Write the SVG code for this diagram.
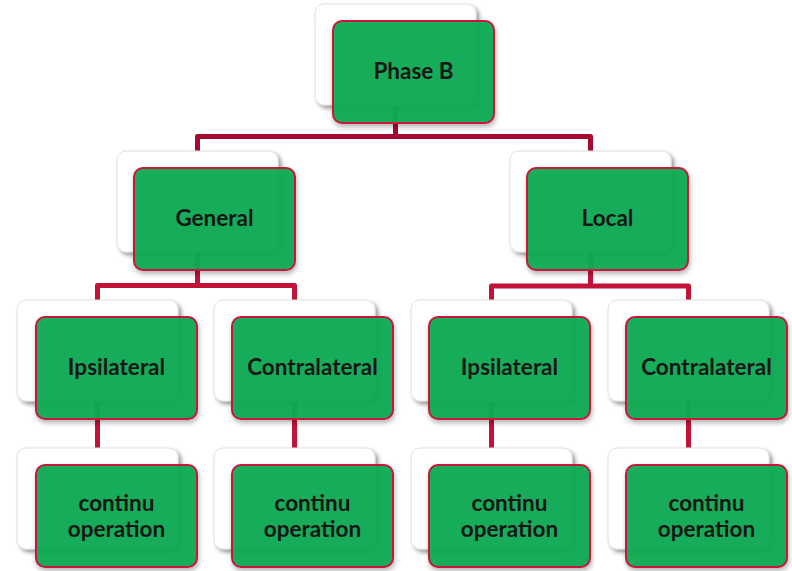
<svg xmlns="http://www.w3.org/2000/svg" width="792" height="571" viewBox="0 0 792 571">
  <defs>
    <filter id="shadowBack" x="-10%" y="-10%" width="125%" height="130%">
      <feDropShadow dx="3" dy="3" stdDeviation="2" flood-color="#000" flood-opacity="0.4"/>
    </filter>
    <filter id="shadowFront" x="-10%" y="-10%" width="125%" height="130%">
      <feDropShadow dx="1" dy="3" stdDeviation="2.5" flood-color="#000" flood-opacity="0.3"/>
    </filter>
  </defs>
  <style>
    .back { fill: #ffffff; stroke: #e0e0e0; stroke-width: 1; filter: url(#shadowBack); }
    .front { fill: #0dab53; fill-opacity: 0.95; stroke: #c8143c; stroke-width: 2; filter: url(#shadowFront); }
    .label { font-family: Lato, "Open Sans", sans-serif; font-weight: 700; font-size: 22.5px; fill: #161616; text-anchor: middle; }
    .wire { fill: none; stroke: #c21238; stroke-width: 5; stroke-linejoin: round; }
    .wire-top { stroke: #a60a30; }
  </style>

  <!-- connectors -->
  <g id="connectors">
    <path class="wire wire-top" d="M395.5 104 V136.5 M197.5 152 V136.5 H590.5 V152"/>
    <path class="wire" d="M197.5 251 V285.5 M97.5 301 V285.5 H294.5 V301"/>
    <path class="wire" d="M590.5 251 V286 M491.5 301 V286 H688.5 V301"/>
    <path class="wire" d="M97.5 400 V449 M294.5 400 V449 M491.5 400 V449 M688.5 400 V449"/>
  </g>

  <!-- level 1 -->
  <g id="phase-b">
    <rect class="back" x="315" y="4" width="161" height="101" rx="9"/>
    <rect class="front" x="333" y="21" width="161" height="102" rx="9"/>
    <text class="label" x="413.5" y="79">Phase B</text>
  </g>

  <!-- level 2 -->
  <g id="general">
    <rect class="back" x="117" y="151" width="161" height="101" rx="9"/>
    <rect class="front" x="134" y="168" width="161" height="102" rx="9"/>
    <text class="label" x="214.5" y="226">General</text>
  </g>
  <g id="local">
    <rect class="back" x="510" y="151" width="161" height="101" rx="9"/>
    <rect class="front" x="527" y="168" width="161" height="102" rx="9"/>
    <text class="label" x="607.5" y="226">Local</text>
  </g>

  <!-- level 3 -->
  <g id="general-ipsilateral">
    <rect class="back" x="17" y="300" width="161" height="101" rx="9"/>
    <rect class="front" x="36" y="317" width="161" height="102" rx="9"/>
    <text class="label" x="116.5" y="375">Ipsilateral</text>
  </g>
  <g id="general-contralateral">
    <rect class="back" x="214" y="300" width="161" height="101" rx="9"/>
    <rect class="front" x="232" y="317" width="161" height="102" rx="9"/>
    <text class="label" x="312.5" y="375">Contralateral</text>
  </g>
  <g id="local-ipsilateral">
    <rect class="back" x="411" y="300" width="161" height="101" rx="9"/>
    <rect class="front" x="429" y="317" width="161" height="102" rx="9"/>
    <text class="label" x="509.5" y="375">Ipsilateral</text>
  </g>
  <g id="local-contralateral">
    <rect class="back" x="608" y="300" width="161" height="101" rx="9"/>
    <rect class="front" x="626" y="317" width="161" height="102" rx="9"/>
    <text class="label" x="706.5" y="375">Contralateral</text>
  </g>

  <!-- level 4 -->
  <g id="general-ipsilateral-op">
    <rect class="back" x="17" y="448" width="161" height="101" rx="9"/>
    <rect class="front" x="36" y="465" width="161" height="102" rx="9"/>
    <text class="label" x="116.5" y="511">continu</text>
    <text class="label" x="116.5" y="537">operation</text>
  </g>
  <g id="general-contralateral-op">
    <rect class="back" x="214" y="448" width="161" height="101" rx="9"/>
    <rect class="front" x="232" y="465" width="161" height="102" rx="9"/>
    <text class="label" x="312.5" y="511">continu</text>
    <text class="label" x="312.5" y="537">operation</text>
  </g>
  <g id="local-ipsilateral-op">
    <rect class="back" x="411" y="448" width="161" height="101" rx="9"/>
    <rect class="front" x="429" y="465" width="161" height="102" rx="9"/>
    <text class="label" x="509.5" y="511">continu</text>
    <text class="label" x="509.5" y="537">operation</text>
  </g>
  <g id="local-contralateral-op">
    <rect class="back" x="608" y="448" width="161" height="101" rx="9"/>
    <rect class="front" x="626" y="465" width="161" height="102" rx="9"/>
    <text class="label" x="706.5" y="511">continu</text>
    <text class="label" x="706.5" y="537">operation</text>
  </g>
</svg>
